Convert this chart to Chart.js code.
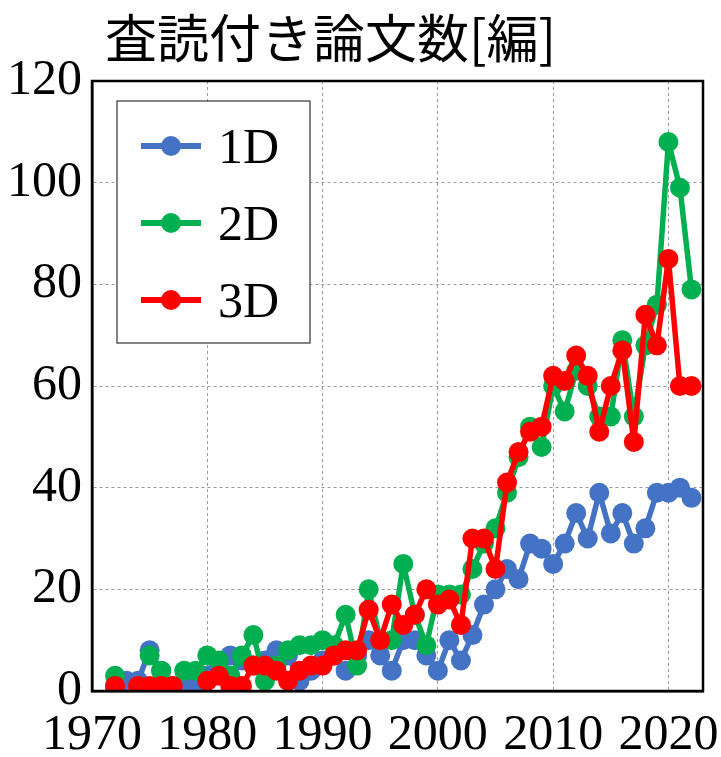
<!DOCTYPE html>
<html>
<head>
<meta charset="utf-8">
<script src="https://cdn.jsdelivr.net/npm/chart.js@4"></script>
<style>
  html, body { margin: 0; padding: 0; background: #fff; }
  #wrap { width: 721px; height: 757px; }
</style>
</head>
<body>
<div id="wrap"><canvas id="graphique" width="721" height="757"></canvas></div>
<script>
const titre = '査読付き論文数[編]';
const annees = [1972, 1973, 1974, 1975, 1976, 1977, 1978, 1979, 1980, 1981,
  1982, 1983, 1984, 1985, 1986, 1987, 1988, 1989, 1990, 1991,
  1992, 1993, 1994, 1995, 1996, 1997, 1998, 1999, 2000, 2001,
  2002, 2003, 2004, 2005, 2006, 2007, 2008, 2009, 2010, 2011,
  2012, 2013, 2014, 2015, 2016, 2017, 2018, 2019, 2020, 2021, 2022];
const series1D = [1, 2, 2, 8, 4, 1, 1, 1, 3, 5,
  7, 6, 5, 6, 8, 7, 2, 4, 6, 7,
  4, 7, 10, 7, 4, 10, 10, 7, 4, 10,
  6, 11, 17, 20, 24, 22, 29, 28, 25, 29,
  35, 30, 39, 31, 35, 29, 32, 39, 39, 40, 38];
const series2D = [3, null, null, 7, 4, null, 4, 4, 7, 6,
  3, 7, 11, 2, 5, 8, 9, 9, 10, 9,
  15, 5, 20, 10, 10, 25, 15, 9, 19, 19,
  19, 24, 29, 32, 39, 46, 52, 48, 60, 55,
  63, 60, 54, 54, 69, 54, 68, 76, 108, 99, 79];
const series3D = [1, null, 1, 1, 1, 1, null, null, 2, 3,
  1, 1, 5, 5, 4, 2, 4, 5, 5, 7,
  8, 8, 16, 10, 17, 13, 15, 20, 17, 18,
  13, 30, 30, 24, 41, 47, 51, 52, 62, 61,
  66, 62, 51, 60, 67, 49, 74, 68, 85, 60, 60];
const etiquettesX = [1970, 1980, 1990, 2000, 2010, 2020];

const noms = ['1D', '2D', '3D'];
const couleurs = ['#4472C4', '#00B050', '#FF0000'];
const toutesSeries = [series1D, series2D, series3D];

const policeChiffres = '"Liberation Serif", "Times New Roman", serif';

// cadre + titre + legende dessines a la main
const decor = {
  id: 'decor',
  afterDraw(chart) {
    const ctx = chart.ctx;
    const a = chart.chartArea;
    ctx.save();
    ctx.strokeStyle = '#000';
    ctx.lineWidth = 2.5;
    ctx.strokeRect(a.left, a.top, a.right - a.left, a.bottom - a.top);

    ctx.fillStyle = '#000';
    ctx.font = '52px "Noto Sans CJK JP", sans-serif';
    ctx.textBaseline = 'alphabetic';
    ctx.textAlign = 'left';
    ctx.fillText(titre, 105, 58);

    // legende
    ctx.fillStyle = '#fff';
    ctx.fillRect(117, 101, 193, 242);
    ctx.strokeStyle = '#333';
    ctx.lineWidth = 1.2;
    ctx.strokeRect(117, 101, 193, 242);
    chart.data.datasets.forEach((ds, i) => {
      const y = 146 + i * 77;
      ctx.strokeStyle = ds.borderColor;
      ctx.lineWidth = 6;
      ctx.beginPath();
      ctx.moveTo(141, y);
      ctx.lineTo(201, y);
      ctx.stroke();
      ctx.fillStyle = ds.borderColor;
      ctx.beginPath();
      ctx.arc(171, y, 10, 0, Math.PI * 2);
      ctx.fill();
      ctx.fillStyle = '#000';
      ctx.font = '50px ' + policeChiffres;
      ctx.fillText(ds.label, 218, y + 17);
    });
    ctx.restore();
  }
};

const ctx = document.getElementById('graphique').getContext('2d');
new Chart(ctx, {
  type: 'line',
  data: {
    datasets: noms.map((nom, i) => ({
      label: nom,
      data: annees.map((an, j) => ({ x: an, y: toutesSeries[i][j] })),
      borderColor: couleurs[i],
      backgroundColor: couleurs[i],
      pointBackgroundColor: couleurs[i],
      pointBorderWidth: 0,
      pointRadius: 10,
      borderWidth: 5.5,
      borderJoinStyle: 'round',
      borderCapStyle: 'round',
      spanGaps: false,
      order: 2 - i,   // 3D au-dessus, 1D en dessous
      clip: 0
    }))
  },
  options: {
    responsive: false,
    animation: false,
    layout: { padding: { top: 81, right: 18, left: 0, bottom: 0 } },
    plugins: {
      legend: { display: false },
      title: { display: false },
      tooltip: { enabled: false }
    },
    scales: {
      x: {
        type: 'linear',
        min: 1970,
        max: 2023,
        afterBuildTicks: (scale) => { scale.ticks = etiquettesX.map(v => ({ value: v })); },
        afterFit: (scale) => {
          scale.height = 66;
          scale.paddingLeft = 0;
          scale.paddingRight = 0;
        },
        ticks: {
          color: '#000',
          font: { family: policeChiffres, size: 50 },
          padding: 15,
          maxRotation: 0,
          autoSkip: false,
          callback: (v) => String(v)
        },
        grid: { color: '#999', lineWidth: 1, drawTicks: false },
        border: { display: true, color: '#000', width: 2.5, dash: [3, 3] }
      },
      y: {
        min: 0,
        max: 120,
        afterFit: (scale) => { scale.width = 92; },
        ticks: {
          stepSize: 20,
          color: '#000',
          font: { family: policeChiffres, size: 50 },
          padding: 10
        },
        grid: { color: '#999', lineWidth: 1, drawTicks: false },
        border: { display: true, color: '#000', width: 2.5, dash: [3, 3] }
      }
    }
  },
  plugins: [decor]
});
</script>
</body>
</html>
